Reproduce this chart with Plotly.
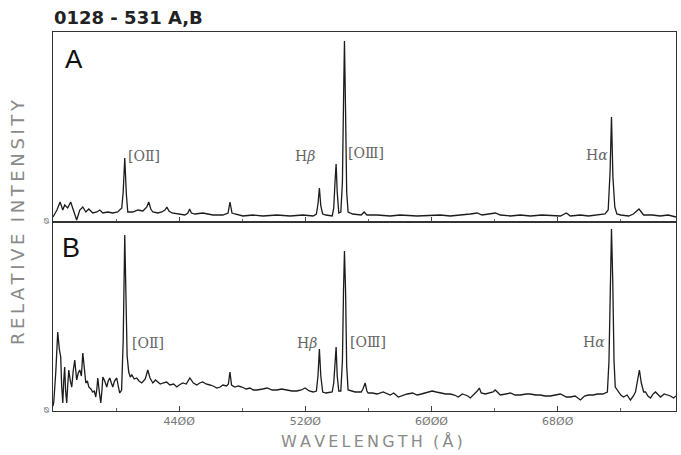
import plotly.graph_objects as go
from plotly.subplots import make_subplots

# ---------------- data ----------------
wl_a = [3600, 3625, 3645, 3662, 3674, 3693, 3712, 3725, 3750, 3770, 3789, 3808, 3827, 3852,
        3878, 3897, 3916, 3947, 3979, 4010, 4036, 4045, 4055, 4065, 4074, 4106, 4138, 4170,
        4195, 4207, 4220, 4233, 4265, 4290, 4310, 4322, 4335, 4354, 4392, 4436, 4455, 4466,
        4478, 4500, 4550, 4614, 4677, 4710, 4722, 4735, 4753, 4804, 4868, 4931, 5020, 5103,
        5185, 5249, 5270, 5280, 5289, 5298, 5310, 5330, 5370, 5380, 5388, 5395, 5402, 5412,
        5425, 5435, 5442, 5448, 5455, 5462, 5471, 5500, 5554, 5573, 5590, 5655, 5738, 5800,
        5909, 6004, 6055, 6119, 6200, 6246, 6290, 6320, 6405, 6436, 6500, 6563, 6627, 6700,
        6817, 6855, 6880, 6944, 6995, 7052, 7100, 7120, 7132, 7141, 7150, 7162, 7175, 7200,
        7250, 7280, 7300, 7315, 7330, 7345, 7400, 7450, 7500, 7550]
int_a = [5, 12, 20, 12, 17, 14, 20, 14, 2, 12, 15, 10, 13, 9,
         10, 12, 9, 10, 9, 10, 14, 30, 64, 28, 10, 10, 12, 11,
         15, 20, 13, 10, 9, 10, 12, 15, 11, 9, 8, 7, 9, 13,
         9, 8, 9, 7, 7, 9, 20, 9, 8, 6, 7, 6, 7, 6,
         7, 6, 8, 18, 34, 16, 8, 7, 6, 14, 40, 58, 30, 9,
         10, 40, 120, 181, 110, 30, 10, 8, 7, 10, 7, 7, 6, 7,
         6, 7, 7, 6, 7, 8, 9, 7, 9, 7, 6, 7, 6, 7,
         6, 9, 6, 7, 6, 7, 8, 12, 50, 105, 45, 15, 8, 7,
         6, 8, 11, 13, 10, 7, 7, 6, 7, 5]

wl_b = [3600, 3605, 3618, 3630, 3640, 3649, 3655, 3662, 3668, 3674, 3680, 3687, 3693, 3700,
        3710, 3719, 3728, 3738, 3750, 3760, 3770, 3780, 3789, 3798, 3808, 3818, 3827, 3840,
        3852, 3862, 3871, 3878, 3884, 3893, 3903, 3910, 3916, 3928, 3941, 3950, 3960, 3970,
        3979, 3990, 4004, 4015, 4023, 4035, 4045, 4055, 4063, 4070, 4080, 4090, 4100, 4115,
        4131, 4145, 4163, 4185, 4201, 4215, 4233, 4250, 4265, 4280, 4296, 4320, 4341, 4365,
        4385, 4400, 4423, 4445, 4468, 4490, 4512, 4530, 4550, 4570, 4595, 4615, 4639, 4660,
        4677, 4700, 4712, 4722, 4732, 4753, 4775, 4798, 4825, 4849, 4870, 4893, 4930, 4957,
        4990, 5020, 5050, 5084, 5115, 5147, 5175, 5198, 5225, 5249, 5270, 5280, 5289, 5298,
        5310, 5330, 5370, 5380, 5388, 5395, 5402, 5412, 5425, 5435, 5442, 5448, 5455, 5462,
        5471, 5500, 5516, 5554, 5565, 5579, 5590, 5598, 5625, 5655, 5693, 5738, 5760, 5789,
        5820, 5846, 5880, 5909, 5935, 5960, 5985, 6004, 6030, 6055, 6090, 6119, 6145, 6170,
        6195, 6214, 6230, 6246, 6275, 6290, 6303, 6315, 6341, 6370, 6390, 6404, 6420, 6436,
        6470, 6500, 6530, 6563, 6600, 6627, 6660, 6690, 6720, 6754, 6785, 6817, 6855, 6881,
        6910, 6944, 6970, 6995, 7025, 7052, 7085, 7115, 7125, 7133, 7141, 7149, 7157, 7165,
        7185, 7200, 7217, 7240, 7261, 7280, 7293, 7305, 7318, 7330, 7345, 7357, 7372, 7388,
        7405, 7420, 7437, 7452, 7475, 7496, 7515, 7534, 7550]
int_b = [5, 9, 40, 79, 62, 54, 25, 8, 30, 44, 20, 8, 25, 41,
         30, 24, 40, 51, 31, 38, 41, 35, 58, 40, 28, 30, 24, 22,
         19, 20, 14, 22, 33, 20, 8, 20, 34, 30, 24, 30, 33, 28,
         24, 30, 33, 24, 18, 21, 70, 176, 120, 55, 39, 34, 36, 32,
         33, 30, 28, 32, 41, 33, 28, 31, 29, 27, 28, 29, 26, 27,
         24, 26, 28, 27, 33, 28, 26, 28, 29, 27, 26, 25, 23, 24,
         26, 25, 27, 39, 26, 24, 25, 24, 22, 23, 21, 21, 22, 23,
         21, 21, 22, 21, 20, 20, 21, 23, 20, 19, 20, 35, 62, 35,
         19, 18, 19, 28, 50, 64, 35, 20, 20, 50, 120, 160, 120, 45,
         21, 20, 19, 19, 22, 28, 20, 18, 18, 17, 19, 16, 18, 14,
         16, 17, 18, 16, 17, 18, 19, 20, 19, 18, 17, 17, 16, 14,
         17, 16, 15, 13, 17, 20, 23, 18, 17, 18, 19, 21, 18, 16,
         17, 18, 16, 16, 17, 17, 16, 16, 15, 15, 16, 17, 14, 14,
         15, 11, 15, 16, 16, 17, 17, 19, 50, 120, 182, 130, 50, 24,
         19, 16, 14, 16, 11, 15, 19, 28, 41, 28, 19, 19, 15, 13,
         17, 19, 16, 14, 17, 16, 15, 13, 15]

major_ticks = [4400, 5200, 6000, 6800]
major_labels = ["44ØØ", "52ØØ", "6ØØØ", "68ØØ"]
minor_ticks = [4000, 4800, 5600, 6400, 7200]
line_names = ["[O\u2161]", "H<i>β</i>", "[O\u2162]", "H<i>α</i>"]

# ---------------- figure ----------------
fig = make_subplots(rows=2, cols=1, shared_xaxes=True, vertical_spacing=0)

LINE = "#1c1c1c"
fig.add_trace(go.Scatter(x=wl_a, y=int_a, mode="lines",
                         line=dict(color=LINE, width=1.3), showlegend=False), row=1, col=1)
fig.add_trace(go.Scatter(x=wl_b, y=int_b, mode="lines",
                         line=dict(color=LINE, width=1.3), showlegend=False), row=2, col=1)

split = 189 / 379
axis_common = dict(showline=True, mirror=True, linecolor="#333", linewidth=1.2,
                   showgrid=False, zeroline=False, automargin=False)

fig.update_xaxes(range=[3600, 7550], tickvals=major_ticks, ticktext=major_labels,
                 ticks="inside", ticklen=5, tickwidth=1, tickcolor="#444",
                 minor=dict(tickvals=minor_ticks, ticks="inside", ticklen=3,
                            tickcolor="#666", tickwidth=1),
                 tickfont=dict(family="DejaVu Sans", size=11, color="#777"),
                 **axis_common)
fig.update_xaxes(showticklabels=False, row=1, col=1)

fig.update_yaxes(tickvals=[0], ticktext=["Ø"], ticks="", tickangle=-90,
                 tickfont=dict(family="Liberation Sans", size=8, color="#777"),
                 **axis_common)
fig.update_layout(yaxis=dict(domain=[split, 1], range=[0, 190]),
                  yaxis2=dict(domain=[0, split], range=[0, 189]))

# spectral line labels (x in Å, y in intensity units)
pos_a = [(4176, 66), (5198, 66), (5585, 69), (7046, 67)]
pos_b = [(4201, 68), (5211, 68), (5598, 69), (7033, 69)]
for (xa, ya), (xb, yb), name in zip(pos_a, pos_b, line_names):
    for (xx, yy, ax) in [(xa, ya, "1"), (xb, yb, "2")]:
        fig.add_annotation(x=xx, y=yy, xref="x" if ax == "1" else "x2",
                           yref="y" if ax == "1" else "y2", text=name, showarrow=False,
                           xanchor="center", yanchor="middle",
                           font=dict(family="DejaVu Serif", size=14, color="#666"))

# panel letters
fig.add_annotation(x=3731, y=163, xref="x", yref="y", text="A", showarrow=False,
                   xanchor="center", yanchor="middle",
                   font=dict(family="Liberation Sans", size=26, color="#111"))
fig.add_annotation(x=3713, y=163, xref="x2", yref="y2", text="B", showarrow=False,
                   xanchor="center", yanchor="middle",
                   font=dict(family="Liberation Sans", size=27, color="#111"))

# title and axis titles
fig.add_annotation(x=-0.002, y=(411 - 17) / 379, xref="paper", yref="paper", xanchor="left",
                   yanchor="middle", text="0128 - 531 A,B", showarrow=False,
                   font=dict(family="DejaVu Sans", size=18, color="#222", weight="bold"))
fig.add_annotation(x=(17 - 53) / 623, y=(411 - 222) / 379, xref="paper", yref="paper",
                   xanchor="center", yanchor="middle",
                   text="R\u2009E\u2009L\u2009A\u2009T\u2009I\u2009V\u2009E  I\u2009N\u2009T\u2009E\u2009N\u2009S\u2009I\u2009T\u2009Y",
                   textangle=-90, showarrow=False,
                   font=dict(family="DejaVu Sans", size=18, color="#8a8a8a"))
fig.add_annotation(x=(372 - 53) / 623, y=(411 - 441) / 379, xref="paper", yref="paper",
                   xanchor="center", yanchor="middle",
                   text="W\u2009A\u2009V\u2009E\u2009L\u2009E\u2009N\u2009G\u2009T\u2009H  (\u2009Å\u2009)",
                   showarrow=False,
                   font=dict(family="DejaVu Sans", size=16, color="#8a8a8a"))

fig.update_layout(width=681, height=455, margin=dict(l=53, r=5, t=32, b=44, autoexpand=False),
                  paper_bgcolor="white", plot_bgcolor="white")

fig.write_html("out.html", config={"displayModeBar": False},
               post_script="document.body.style.margin='0';document.body.style.overflow='hidden';")
